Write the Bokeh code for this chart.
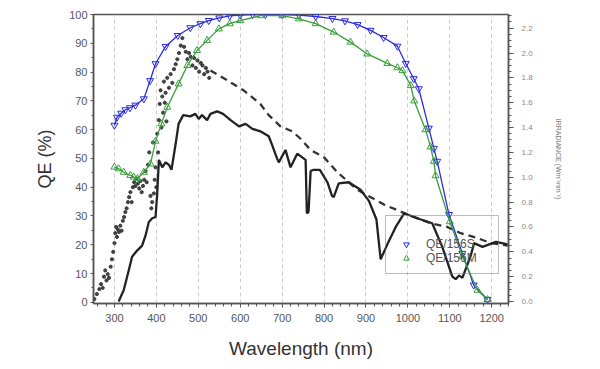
from bokeh.plotting import figure
from bokeh.models import (Range1d, LinearAxis, SingleIntervalTicker, PrintfTickFormatter,
                          Legend, LegendItem)
from bokeh.embed import file_html
from bokeh.resources import INLINE

# ---------------- data ----------------
s_wl = [300, 306, 316, 326, 337, 350, 370, 385, 398, 422, 451, 481, 505, 525, 550, 575, 600, 630,
        660, 700, 740, 780, 820, 850, 880, 911, 942, 975, 995, 1014, 1026, 1050, 1062, 1070, 1098,
        1130, 1157, 1190]
s_qe = [61.5, 64.3, 65.7, 66.9, 67.6, 68.5, 70.7, 77, 82.9, 88.9, 92.7, 95.4, 96.8, 97.9, 98.8,
        99.5, 99.8, 100, 100, 100, 99.8, 99.3, 98.6, 97.8, 96.5, 94.5, 92, 89, 83, 77.7, 74.2,
        60.5, 53.5, 49, 30.5, 17, 6, 1]

m_wl = [300, 310, 322, 338, 346, 355, 370, 386, 398, 412, 426, 453, 474, 497, 521, 549, 575, 600,
        649, 700, 740, 780, 823, 863, 903, 951, 975, 987, 1007, 1015, 1042, 1054, 1062, 1066,
        1100, 1130, 1166, 1190]
m_qe = [47, 46.4, 45.2, 44.1, 43.5, 43, 45.2, 48.1, 56, 62, 67.8, 75.9, 82.3, 87.5, 91, 95, 96.8,
        97.9, 99.6, 99.6, 98.5, 96.8, 93.9, 90.4, 86.3, 83, 81.5, 80.5, 75.3, 70, 60, 54, 49, 44,
        28, 16, 4.2, 1]

g_wl = [310, 322, 334, 342, 354, 366, 374, 382, 390, 398, 402, 406, 414, 422, 430, 436, 446, 453,
        464, 481, 493, 501, 509, 521, 529, 545, 559, 577, 597, 613, 629, 648, 668, 676, 688, 692,
        708, 720, 736, 756, 759, 763, 768, 775, 790, 808, 819, 823, 835, 859, 887, 907, 919, 925,
        935, 951, 971, 991, 1022, 1058, 1082, 1106, 1114, 1122, 1130, 1150, 1158, 1178, 1186,
        1210, 1238]
g_irr = [0.0, 0.09, 0.25, 0.36, 0.41, 0.45, 0.53, 0.64, 0.67, 0.68, 0.87, 1.14, 1.08, 1.12, 1.10,
         1.06, 1.27, 1.43, 1.50, 1.49, 1.51, 1.47, 1.50, 1.46, 1.51, 1.53, 1.51, 1.46, 1.41, 1.43,
         1.39, 1.37, 1.33, 1.26, 1.15, 1.12, 1.22, 1.08, 1.19, 1.14, 0.71, 0.72, 1.05, 1.06, 1.06,
         0.96, 0.85, 0.84, 0.95, 0.96, 0.90, 0.81, 0.71, 0.66, 0.34, 0.46, 0.60, 0.71, 0.67, 0.63,
         0.44, 0.20, 0.18, 0.21, 0.19, 0.37, 0.47, 0.44, 0.45, 0.48, 0.46]

e_wl = [529, 569, 608, 648, 668, 696, 724, 744, 768, 800, 832, 879, 943, 1007, 1054, 1094, 1126,
        1166, 1198, 1238]
e_irr = [1.86, 1.78, 1.70, 1.59, 1.50, 1.41, 1.37, 1.31, 1.22, 1.16, 1.04, 0.90, 0.78, 0.69, 0.63,
         0.60, 0.55, 0.51, 0.47, 0.45]

uv_wl = [252, 258, 264, 268, 272, 275, 278, 281, 284, 287, 291, 294, 297, 300, 302, 304, 306, 308,
         311, 314, 317, 320, 323, 326, 329, 332, 335, 338, 341, 344, 347, 350, 353, 356, 359, 362,
         365, 368, 371, 374, 377, 380, 383, 386, 388, 390, 392, 394, 396, 398, 400, 402, 404, 406,
         408, 410, 412, 414, 416, 418, 420, 422, 424, 426, 430, 434, 438, 442, 446, 450, 454, 458,
         462, 466, 470, 474, 478, 482, 486, 490, 494, 498, 502, 506, 510, 514, 518, 522, 526]
uv_irr = [0.02, 0.06, 0.10, 0.14, 0.11, 0.20, 0.25, 0.17, 0.22, 0.19, 0.28, 0.34, 0.40, 0.47, 0.55,
          0.60, 0.52, 0.58, 0.56, 0.61, 0.57, 0.65, 0.68, 0.72, 0.75, 0.80, 0.84, 0.88, 0.80, 0.92,
          0.96, 0.93, 0.99, 0.95, 0.91, 0.97, 0.88, 0.93, 0.98, 1.05, 0.96, 1.10, 1.20, 0.85, 0.75,
          0.80, 1.28, 0.87, 0.98, 1.08, 0.92, 1.35, 1.20, 1.46, 1.59, 1.70, 1.40, 1.65, 1.52, 1.77,
          1.60, 1.68, 1.45, 1.80, 1.72, 1.83, 1.76, 1.87, 1.91, 1.95, 2.00, 2.06, 2.12, 2.05, 2.01,
          1.95, 2.00, 1.97, 1.90, 1.96, 1.88, 1.94, 1.85, 1.92, 1.90, 1.83, 1.88, 1.85, 1.80]

labels = ["QE/156S", "QE/156M"]

FONT = "Liberation Sans"
BLUE = "#2b2be0"
GREEN = "#3a9e3a"
AX = "#555555"

p = figure(width=600, height=369, x_range=Range1d(250, 1240), y_range=Range1d(-0.4, 100),
           output_backend="svg", toolbar_location=None,
           min_border_left=93, min_border_right=92, min_border_top=14, min_border_bottom=66)
p.extra_y_ranges = {"irr": Range1d(-0.016, 2.31)}
p.outline_line_color = AX
p.outline_line_width = 1.5
p.background_fill_color = "white"

# x axis
p.xaxis.ticker = SingleIntervalTicker(interval=100, num_minor_ticks=5)
p.xaxis.axis_label = "Wavelength (nm)"
p.xaxis.axis_label_text_font = FONT
p.xaxis.axis_label_text_font_size = "19px"
p.xaxis.axis_label_text_font_style = "normal"
p.xaxis.axis_label_text_color = "#333333"
p.xaxis.axis_label_standoff = 13
p.xaxis.major_label_text_font = FONT
p.xaxis.major_label_text_font_size = "11px"
p.xaxis.major_label_text_color = AX
p.xaxis.major_label_standoff = 6
p.xaxis.major_tick_out = 4
p.xaxis.major_tick_in = 0
p.xaxis.minor_tick_out = 3
p.xaxis.minor_tick_in = 0
p.xaxis.axis_line_color = AX
p.xaxis.axis_line_width = 1.5
p.xaxis.major_tick_line_color = AX
p.xaxis.minor_tick_line_color = AX

# y axis
p.yaxis.ticker = SingleIntervalTicker(interval=10, num_minor_ticks=2)
p.yaxis.axis_label = "QE (%)"
p.yaxis.axis_label_text_font = FONT
p.yaxis.axis_label_text_font_size = "18px"
p.yaxis.axis_label_text_font_style = "normal"
p.yaxis.axis_label_text_color = "#333333"
p.yaxis.axis_label_standoff = 11
p.yaxis.major_label_text_font = FONT
p.yaxis.major_label_text_font_size = "11px"
p.yaxis.major_label_text_color = AX
p.yaxis.major_label_standoff = 3
p.yaxis.major_tick_out = 3
p.yaxis.major_tick_in = 0
p.yaxis.minor_tick_out = 2
p.yaxis.minor_tick_in = 0
p.yaxis.axis_line_color = AX
p.yaxis.axis_line_width = 1.5
p.yaxis.major_tick_line_color = AX
p.yaxis.minor_tick_line_color = AX

# right axis (irradiance)
right = LinearAxis(y_range_name="irr",
                   ticker=SingleIntervalTicker(interval=0.2, num_minor_ticks=4),
                   formatter=PrintfTickFormatter(format="%.1f"),
                   axis_label="IRRADIANCE (Wm⁻²nm⁻¹)",
                   axis_label_text_font=FONT, axis_label_text_font_size="7px",
                   axis_label_text_font_style="normal", axis_label_text_color="#777777",
                   axis_label_standoff=19,
                   major_label_text_font=FONT, major_label_text_font_size="8px",
                   major_label_text_color="#888888", major_label_standoff=8,
                   major_tick_out=5, major_tick_in=0, minor_tick_out=3, minor_tick_in=0,
                   axis_line_color=AX, axis_line_width=1.5,
                   major_tick_line_color=AX, minor_tick_line_color=AX)
p.add_layout(right, "right")

# grid
p.ygrid.grid_line_color = None
p.xgrid.grid_line_color = "#cccccc"
p.xgrid.grid_line_dash = "4 3"
p.xgrid.grid_line_width = 1

# irradiance curves
p.scatter(uv_wl, uv_irr, y_range_name="irr", marker="circle", size=3.2,
          color="#333333", alpha=0.9)
p.line(e_wl, e_irr, y_range_name="irr", line_color="#333333", line_width=2.3, line_dash="7 5")
p.line(g_wl, g_irr, y_range_name="irr", line_color="#222222", line_width=2.3)

# QE curves
p.line(s_wl, s_qe, line_color=BLUE, line_width=1.3)
rs = p.scatter(s_wl, s_qe, marker="inverted_triangle", size=7, line_color=BLUE,
               fill_alpha=0, line_width=1)
p.line(m_wl, m_qe, line_color=GREEN, line_width=1.3)
rm = p.scatter(m_wl, m_qe, marker="triangle", size=7, line_color=GREEN,
               fill_alpha=0, line_width=1)

legend = Legend(items=[LegendItem(label=labels[0], renderers=[rs]),
                       LegendItem(label=labels[1], renderers=[rm])],
                location=(292, 29), title=" ", title_text_font_size="8px", title_standoff=4,
                padding=8, spacing=0, glyph_width=24, glyph_height=14, label_height=14,
                label_width=64, label_standoff=8, margin=0,
                label_text_font=FONT, label_text_font_size="12px", label_text_color=AX,
                border_line_color="#777777", border_line_width=1,
                background_fill_alpha=0)
p.add_layout(legend, "center")

open("out.html", "w").write(file_html(p, INLINE))
